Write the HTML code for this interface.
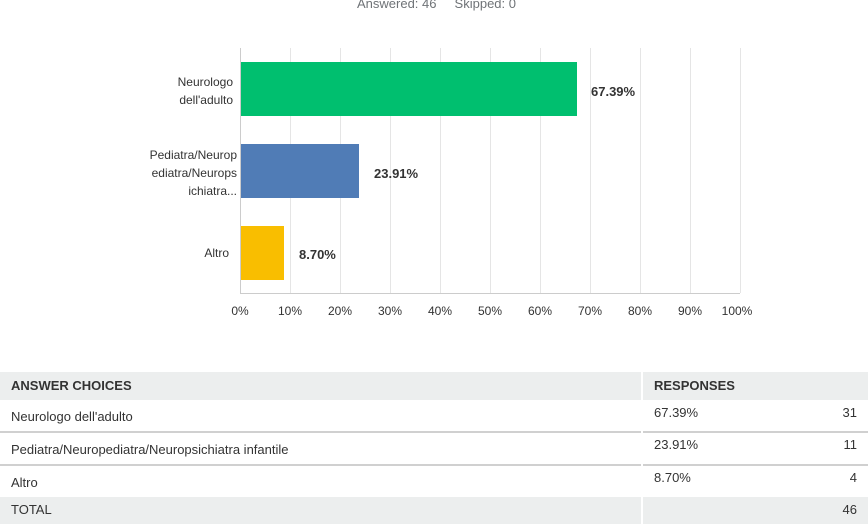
<!DOCTYPE html>
<html><head><style>
body{margin:0;width:868px;height:524px;background:#fff;font-family:"Liberation Sans",sans-serif;position:relative;overflow:hidden;color:#333}
.a{position:absolute}
.t{font-size:13px;color:#333}
</style></head><body>
<div class="a" style="left:357px;top:-4px;font-size:13px;color:#6f7377">Answered: 46&nbsp;&nbsp;&nbsp;&nbsp;&nbsp;Skipped: 0</div>
<svg class="a" style="left:0;top:0" width="868" height="330">
<g stroke="#e5e5e5" stroke-width="1">
<line x1="290.5" y1="48" x2="290.5" y2="293"/><line x1="340.5" y1="48" x2="340.5" y2="293"/><line x1="390.5" y1="48" x2="390.5" y2="293"/><line x1="440.5" y1="48" x2="440.5" y2="293"/><line x1="490.5" y1="48" x2="490.5" y2="293"/><line x1="540.5" y1="48" x2="540.5" y2="293"/><line x1="590.5" y1="48" x2="590.5" y2="293"/><line x1="640.5" y1="48" x2="640.5" y2="293"/><line x1="690.5" y1="48" x2="690.5" y2="293"/><line x1="740.5" y1="48" x2="740.5" y2="293"/>
</g>
<line x1="240.5" y1="48" x2="240.5" y2="293" stroke="#ccc"/>
<line x1="240" y1="293.5" x2="740" y2="293.5" stroke="#ccc"/>
<rect x="241" y="62" width="336" height="54" fill="#00bf6f"/>
<rect x="241" y="144" width="118" height="54" fill="#507cb6"/>
<rect x="241" y="226" width="43" height="54" fill="#f9be00"/>
<g font-family="Liberation Sans,sans-serif" font-size="13" fill="#333" font-weight="bold">
<text x="591" y="96">67.39%</text><text x="374" y="178">23.91%</text><text x="299" y="259">8.70%</text>
</g>
<g font-family="Liberation Sans,sans-serif" font-size="12" fill="#333" text-anchor="end">
<text x="233" y="86">Neurologo</text><text x="233" y="104">dell'adulto</text>
<text x="237" y="159">Pediatra/Neurop</text><text x="237" y="177">ediatra/Neurops</text><text x="237" y="195">ichiatra...</text>
<text x="229" y="257">Altro</text>
</g>
<g font-family="Liberation Sans,sans-serif" font-size="12" fill="#333" text-anchor="middle">
<text x="240" y="315">0%</text><text x="290" y="315">10%</text><text x="340" y="315">20%</text><text x="390" y="315">30%</text><text x="440" y="315">40%</text><text x="490" y="315">50%</text><text x="540" y="315">60%</text><text x="590" y="315">70%</text><text x="640" y="315">80%</text><text x="690" y="315">90%</text><text x="737" y="315">100%</text>
</g>
</svg>
<div class="a" style="left:0;top:372px;width:868px;height:28px;background:#eceeee"></div>
<div class="a" style="left:0;top:497px;width:868px;height:27px;background:#eceeee"></div>
<div class="a" style="left:0;top:431px;width:868px;height:2px;background:#d0d0d0"></div>
<div class="a" style="left:0;top:464px;width:868px;height:2px;background:#d0d0d0"></div>
<div class="a" style="left:641px;top:372px;width:2px;height:152px;background:#fff"></div>
<div class="a t" style="left:11px;top:378px;font-weight:bold">ANSWER CHOICES</div>
<div class="a t" style="left:654px;top:378px;font-weight:bold">RESPONSES</div>
<div class="a t" style="left:11px;top:409px">Neurologo dell'adulto</div>
<div class="a t" style="left:654px;top:405px">67.39%</div>
<div class="a t" style="right:11px;top:405px">31</div>
<div class="a t" style="left:11px;top:442px">Pediatra/Neuropediatra/Neuropsichiatra infantile</div>
<div class="a t" style="left:654px;top:437px">23.91%</div>
<div class="a t" style="right:11px;top:437px">11</div>
<div class="a t" style="left:11px;top:475px">Altro</div>
<div class="a t" style="left:654px;top:470px">8.70%</div>
<div class="a t" style="right:11px;top:470px">4</div>
<div class="a t" style="left:11px;top:502px">TOTAL</div>
<div class="a t" style="right:11px;top:502px">46</div>
</body></html>
